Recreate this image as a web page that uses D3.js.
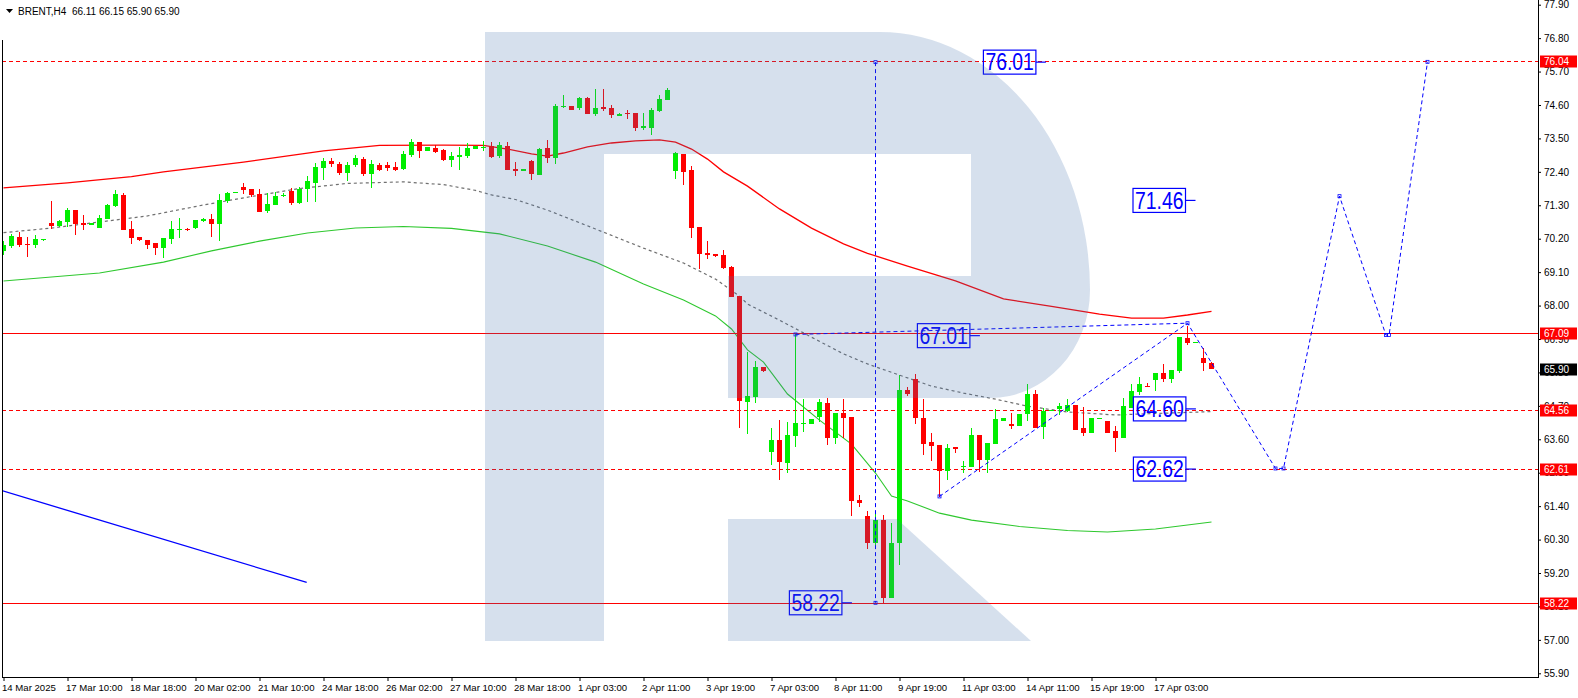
<!DOCTYPE html>
<html><head><meta charset="utf-8">
<script src="https://cdn.jsdelivr.net/npm/d3@7"></script>
<style>
body{margin:0;background:#fff;}
svg{display:block;font-family:"Liberation Sans",Arial,sans-serif;}
</style>
</head><body>
<svg id="c" width="1578" height="698"></svg>
<script>
// ---------- DATA ----------
const opens = [69.80,69.96,70.26,70.03,70.00,70.17,70.72,70.62,70.76,71.15,
70.73,70.64,70.56,70.85,71.28,71.64,70.51,70.26,70.16,70.06,
69.90,70.19,70.51,70.51,70.56,70.78,70.85,70.69,71.45,71.73,
71.90,71.84,71.67,71.12,71.32,71.63,71.77,71.38,71.83,72.04,
72.53,72.76,72.66,72.37,72.62,72.82,72.33,72.62,72.62,72.55,
72.49,72.95,73.38,73.10,73.19,73.12,72.79,72.90,72.92,73.16,
73.22,73.25,72.92,73.25,72.49,72.43,72.77,72.30,73.19,72.87,
74.56,74.57,74.50,74.83,74.31,74.53,74.50,74.25,74.34,74.34,
73.85,73.85,74.39,74.76,72.44,72.99,72.46,70.57,69.72,69.69,
69.66,69.27,68.31,64.84,65.00,65.98,63.19,63.58,62.83,63.72,
64.11,64.11,64.34,64.78,63.63,64.45,64.32,61.60,61.07,60.18,
60.94,58.39,60.18,65.22,65.57,64.29,63.50,63.41,62.57,63.34,
62.69,62.70,63.74,62.92,63.44,64.21,64.10,64.04,64.43,65.09,
64.01,64.54,64.59,64.53,64.73,63.96,63.82,64.28,64.21,63.87,
63.65,64.62,65.17,65.36,65.55,65.79,65.58,65.86,66.92,66.76,
66.26,66.11];
const highs = [70.14,70.36,70.42,70.26,70.32,70.20,71.44,70.82,71.22,71.15,
70.98,70.71,70.97,71.34,71.80,71.70,70.78,70.26,70.16,70.06,
70.22,70.78,70.88,70.56,70.82,70.87,71.01,71.67,71.75,71.75,
72.03,71.84,71.84,71.71,71.75,71.69,71.86,71.89,72.26,72.69,
72.86,72.86,72.72,72.72,72.95,72.89,72.79,72.69,72.72,72.72,
73.09,73.48,73.38,73.22,73.27,73.16,73.06,73.23,73.34,73.24,
73.42,73.39,73.38,73.38,72.72,72.49,72.79,73.18,73.45,74.62,
74.94,74.57,74.87,74.87,75.13,75.13,74.60,74.34,74.44,74.34,
74.35,74.50,74.93,75.16,73.04,72.99,72.59,70.57,70.12,69.69,
69.82,69.30,68.31,66.47,66.18,65.98,63.98,64.23,64.16,67.05,
64.92,64.27,64.93,64.96,64.45,64.92,64.32,61.76,61.25,61.17,
61.11,60.85,65.71,65.33,65.75,64.91,63.82,63.41,63.44,63.34,
62.89,63.98,63.74,63.49,64.59,64.31,64.45,64.43,65.42,65.22,
64.62,64.57,64.80,64.91,64.73,64.67,64.29,64.29,64.21,64.04,
64.95,65.42,65.64,65.44,65.77,66.07,65.88,66.97,67.33,66.81,
66.59,66.15];
const lows = [69.66,69.90,69.94,69.61,69.90,70.14,70.52,70.59,70.60,70.33,
70.49,70.64,70.56,70.85,71.25,70.49,70.04,70.13,69.86,69.66,
69.56,70.04,70.22,70.46,70.53,70.76,70.27,70.12,71.36,71.70,
71.67,71.57,71.09,71.06,71.32,71.58,71.30,71.33,71.42,71.42,
72.13,72.56,72.30,72.11,72.56,72.27,71.88,72.43,72.44,72.44,
72.46,72.90,72.87,73.10,73.03,72.76,72.55,72.46,72.87,73.16,
73.10,72.87,72.87,72.46,72.26,72.42,72.13,72.30,72.70,72.67,
74.51,74.44,74.44,74.31,74.25,74.40,74.17,74.24,74.14,73.75,
73.77,73.62,74.36,74.76,72.16,71.97,70.23,69.21,69.52,69.61,
69.19,68.29,63.96,63.78,64.80,65.80,62.75,62.26,62.50,63.34,
63.85,64.11,64.18,63.41,63.45,63.63,61.08,61.38,59.98,60.07,
58.20,58.37,59.46,65.02,64.10,63.08,62.89,61.71,62.26,63.16,
62.48,62.70,62.53,62.48,63.44,64.20,63.93,64.04,64.21,63.96,
63.62,64.53,64.40,64.51,63.91,63.71,63.82,64.28,63.82,63.19,
63.65,64.62,65.06,65.31,65.20,65.49,65.46,65.77,66.70,66.76,
65.86,65.90];
const closes = [69.99,70.29,69.99,70.02,70.19,70.18,70.63,70.78,71.15,70.68,
70.65,70.71,70.87,71.31,71.67,70.49,70.23,70.16,69.99,69.90,
70.22,70.52,70.52,70.50,70.82,70.85,70.69,71.47,71.71,71.74,
71.81,71.64,71.09,71.34,71.60,71.64,71.38,71.84,72.10,72.56,
72.76,72.66,72.37,72.62,72.86,72.33,72.66,72.46,72.54,72.46,
72.99,73.38,73.10,73.22,73.06,72.79,72.92,72.95,73.19,73.24,
73.23,72.89,73.28,72.46,72.44,72.49,72.33,73.15,72.87,74.57,
74.57,74.44,74.83,74.31,74.50,74.48,74.28,74.31,74.31,73.85,
73.91,74.44,74.80,75.09,73.01,72.41,70.56,69.71,69.67,69.64,
69.25,68.29,64.87,65.02,65.98,65.86,63.58,62.86,63.74,64.13,
64.13,64.27,64.84,63.63,64.45,64.31,61.58,61.49,60.18,60.94,
58.39,60.18,65.22,65.09,64.29,63.44,63.39,62.57,63.30,63.27,
62.73,63.74,62.92,63.49,64.27,64.31,64.05,64.43,65.09,63.96,
64.53,64.56,64.70,64.73,63.91,63.82,64.29,64.29,63.82,63.65,
64.69,65.20,65.42,65.34,65.77,65.59,65.88,66.97,66.78,66.81,
66.12,65.90];

// Bollinger-like bands (bar index, price)
const upperBars = [0,8,16,20,30,40,47,55,60,63,66,68,70,73,76,79,82,84,86,88,90,93,97,101,105,108,113,119,125,131,137,141,145,148,151];
const upperVals = [71.87,72.04,72.24,72.40,72.72,73.09,73.27,73.28,73.27,73.15,72.99,72.92,73.02,73.22,73.35,73.42,73.45,73.38,73.15,72.82,72.40,71.93,71.18,70.55,70.03,69.72,69.30,68.81,68.22,67.97,67.72,67.59,67.59,67.69,67.81];
const midBars = [0,6,12,18,25,31,37,43,50,55,59,61,64,68,74,80,85,89,92,93,97,101,105,108,112,116,120,124,128,133,139,144,151];
const midVals = [70.40,70.55,70.75,70.95,71.31,71.59,71.85,72.02,72.07,71.98,71.79,71.64,71.49,71.14,70.52,69.89,69.40,68.87,68.31,68.05,67.52,66.96,66.41,66.08,65.71,65.35,65.12,64.92,64.69,64.50,64.40,64.45,64.51];
const lowerBars = [0,12,20,26,32,38,44,50,56,62,68,74,80,85,89,91,93,95,98,102,106,109,111,113,117,121,127,133,138,144,151];
const lowerVals = [68.81,69.07,69.43,69.80,70.12,70.39,70.55,70.60,70.54,70.36,69.96,69.43,68.71,68.18,67.66,67.23,66.54,66.14,65.09,64.23,63.44,62.49,61.73,61.57,61.17,60.94,60.73,60.60,60.55,60.65,60.88];

// horizontal levels
const levelVals = [76.04, 67.09, 64.56, 62.61, 58.22];
const levelDashed = [true, false, true, true, false];
const currentPrice = 65.90;

// forecast path (bar index, price)
const fcBars = [117, 148, 159, 160, 167, 172.8, 173.2, 178];
const fcVals = [61.72, 67.42, 62.64, 62.64, 71.60, 67.03, 67.03, 76.02];
const trendBars = [99, 148];
const trendVals = [67.05, 67.42];
const vLineBar = 109;
const vLineVals = [76.01, 58.22];
const blueBars = [-0.2, 37.9];
const blueVals = [61.91, 58.89];

// text labels
const lblVals = [76.01, 71.46, 67.01, 64.60, 62.62, 58.22];
const lblBars = [130.3, 149.0, 122.05, 149.05, 149.05, 106.05];

// axes
const yTicks = [77.90,76.80,75.70,74.60,73.50,72.40,71.30,70.20,69.10,68.00,66.90,65.80,64.70,63.60,62.50,61.40,60.30,59.20,58.10,57.00,55.90];
const xTickBars = [0,8,16,24,32,40,48,56,64,72,80,88,96,104,112,120,128,136,144];
const xTickLabels = ["14 Mar 2025","17 Mar 10:00","18 Mar 18:00","20 Mar 02:00","21 Mar 10:00","24 Mar 18:00","26 Mar 02:00","27 Mar 10:00","28 Mar 18:00","1 Apr 03:00","2 Apr 11:00","3 Apr 19:00","7 Apr 03:00","8 Apr 11:00","9 Apr 19:00","11 Apr 03:00","14 Apr 11:00","15 Apr 19:00","17 Apr 03:00"];
const header = "BRENT,H4  66.11 66.15 65.90 65.90";

// ---------- LAYOUT ----------
const PL = 2, PR = 1538, PT = 0, PB = 677;
const x = d3.scaleLinear().domain([0, 151]).range([3.5, 1211.5]);
const y = d3.scaleLinear().domain([55.90, 77.90]).range([673.3, 4.7]);

const svg = d3.select('#c');
svg.append('rect').attr('width',1578).attr('height',698).attr('fill','#fff');
svg.append('defs').append('clipPath').attr('id','clip')
  .append('rect').attr('x',PL).attr('y',PT).attr('width',PR-PL).attr('height',PB-PT);
const g = svg.append('g').attr('clip-path','url(#clip)');

// blue solid line
g.append('line').attr('x1',x(blueBars[0])).attr('y1',y(blueVals[0]))
  .attr('x2',x(blueBars[1])).attr('y2',y(blueVals[1]))
  .attr('stroke','#0000ff').attr('stroke-width',1.3);

// bands
const lineGen = (bars, vals) => d3.line().x((d,i)=>x(bars[i])).y((d,i)=>y(vals[i]))(vals);
g.append('path').attr('d', lineGen(upperBars, upperVals)).attr('fill','none').attr('stroke','#ff0000').attr('stroke-width',1.3);
g.append('path').attr('d', lineGen(lowerBars, lowerVals)).attr('fill','none').attr('stroke','#2fc82f').attr('stroke-width',1.1);
g.append('path').attr('d', lineGen(midBars, midVals)).attr('fill','none').attr('stroke','#707070').attr('stroke-width',1.2).attr('stroke-dasharray','3,3');

// horizontal levels
levelVals.forEach((v,i)=>{
  g.append('line').attr('x1',PL).attr('x2',PR).attr('y1',Math.round(y(v))+0.5).attr('y2',Math.round(y(v))+0.5)
    .attr('stroke','#ff0000').attr('stroke-width',1)
    .attr('stroke-dasharray', levelDashed[i] ? '4,3' : null);
});

// candles
const idx = d3.range(opens.length);
const up = i => closes[i] >= opens[i];
const colUp = '#00ee00', colDn = '#ff0000';
g.append('g').attr('shape-rendering','crispEdges').selectAll('line').data(idx).join('line')
  .attr('x1',i=>x(i)).attr('x2',i=>x(i))
  .attr('y1',i=>y(highs[i])).attr('y2',i=>y(lows[i]))
  .attr('stroke',i=>up(i)?colUp:colDn).attr('stroke-width',1);
g.append('g').attr('shape-rendering','crispEdges').selectAll('rect').data(idx).join('rect')
  .attr('x',i=>x(i)-2.5).attr('width',5)
  .attr('y',i=>y(Math.max(opens[i],closes[i])))
  .attr('height',i=>Math.max(1, Math.abs(y(opens[i])-y(closes[i]))))
  .attr('fill',i=>up(i)?colUp:colDn);

// forecast lines
const blue = '#0000ff';
g.append('path').attr('d', lineGen(fcBars, fcVals)).attr('fill','none').attr('stroke',blue).attr('stroke-width',1).attr('stroke-dasharray','4,3');
g.append('path').attr('d', lineGen(trendBars, trendVals)).attr('fill','none').attr('stroke',blue).attr('stroke-width',1).attr('stroke-dasharray','4,3');
g.append('line').attr('x1',x(vLineBar)).attr('x2',x(vLineBar)).attr('y1',y(vLineVals[0])).attr('y2',y(vLineVals[1]))
  .attr('stroke',blue).attr('stroke-width',1).attr('stroke-dasharray','4,3');
const markers = [];
fcBars.forEach((b,i)=>markers.push([b,fcVals[i]]));
markers.push([trendBars[0],trendVals[0]]);
markers.push([vLineBar,vLineVals[0]]); markers.push([vLineBar,vLineVals[1]]);
g.append('g').selectAll('rect').data(markers).join('rect')
  .attr('x',d=>x(d[0])-1.5).attr('y',d=>y(d[1])-1.5).attr('width',3).attr('height',3)
  .attr('fill','none').attr('stroke',blue).attr('stroke-width',0.8);

// labels with boxes
const lg = g.append('g');
lblVals.forEach((v,i)=>{
  const xe = x(lblBars[i]);
  const yc = y(v);
  const bx = xe - 10 - 52.5;
  lg.append('line').attr('x1',xe-10).attr('x2',xe).attr('y1',yc).attr('y2',yc).attr('stroke',blue).attr('stroke-width',1.2);
  lg.append('rect').attr('x',bx).attr('y',yc-12).attr('width',52.5).attr('height',24)
    .attr('fill','none').attr('stroke',blue).attr('stroke-width',1.2);
  lg.append('text').attr('x',bx+2).attr('y',yc+8.3).attr('font-size',23)
    .attr('textLength',48.5).attr('lengthAdjust','spacingAndGlyphs')
    .attr('fill',blue).text(v.toFixed(2));
});

// logo watermark overlay
const logo = g.append('g').attr('fill','rgb(70,115,175)').attr('fill-opacity',0.22);
logo.append('path').attr('d','M485,32 H880 A210 258 0 0 1 1090 290 A100 108 0 0 1 990 398 H728 V276 H971 V154 H604 V641 H485 Z');
logo.append('path').attr('d','M728,519 H897 L1031,641 H728 Z');

// ---------- AXES ----------
const ax = svg.append('g').attr('transform',`translate(${PR},0)`)
  .call(d3.axisRight(y).tickValues(yTicks).tickSize(3).tickPadding(3).tickFormat(d3.format('.2f')));
ax.select('.domain').remove();
ax.selectAll('text').attr('font-size',10).attr('fill','#000').attr('font-family','"Liberation Sans",Arial,sans-serif');
ax.selectAll('line').attr('stroke','#000');

const bx = svg.append('g').attr('transform',`translate(0,${PB})`)
  .call(d3.axisBottom(x).tickValues(xTickBars).tickSize(4).tickPadding(3).tickFormat((d,i)=>xTickLabels[i]));
bx.select('.domain').remove();
bx.selectAll('text').attr('font-size',9.6).attr('fill','#000').attr('text-anchor','start').attr('dx',-2)
  .attr('font-family','"Liberation Sans",Arial,sans-serif');
bx.selectAll('line').attr('stroke','#000');

// frame
svg.append('line').attr('x1',PR+0.5).attr('x2',PR+0.5).attr('y1',0).attr('y2',PB+0.5).attr('stroke','#000');
svg.append('line').attr('x1',PL).attr('x2',PR+1).attr('y1',PB+0.5).attr('y2',PB+0.5).attr('stroke','#000');
svg.append('line').attr('x1',PL+0.5).attr('x2',PL+0.5).attr('y1',40).attr('y2',PB+0.5).attr('stroke','#000');

// price tags (drawn over the axis labels, as in the reference)
const tags = levelVals.map(v=>({v, c:'#ff0000'})).concat([{v:currentPrice, c:'#000'}]);
const tg = svg.append('g');
tags.forEach(t=>{
  const yc = y(t.v);
  tg.append('rect').attr('x',PR+2).attr('y',Math.round(yc)-5.5).attr('width',37).attr('height',12).attr('fill',t.c);
  tg.append('text').attr('x',PR+6).attr('y',Math.round(yc)+4).attr('font-size',10).attr('fill','#fff').text(t.v.toFixed(2));
});

// header
svg.append('path').attr('d','M6,9 L13,9 L9.5,13 Z').attr('fill','#000');
svg.append('text').attr('x',18).attr('y',15).attr('font-size',10).attr('fill','#000')
  .style('white-space','pre').text(header);
</script>
</body></html>
